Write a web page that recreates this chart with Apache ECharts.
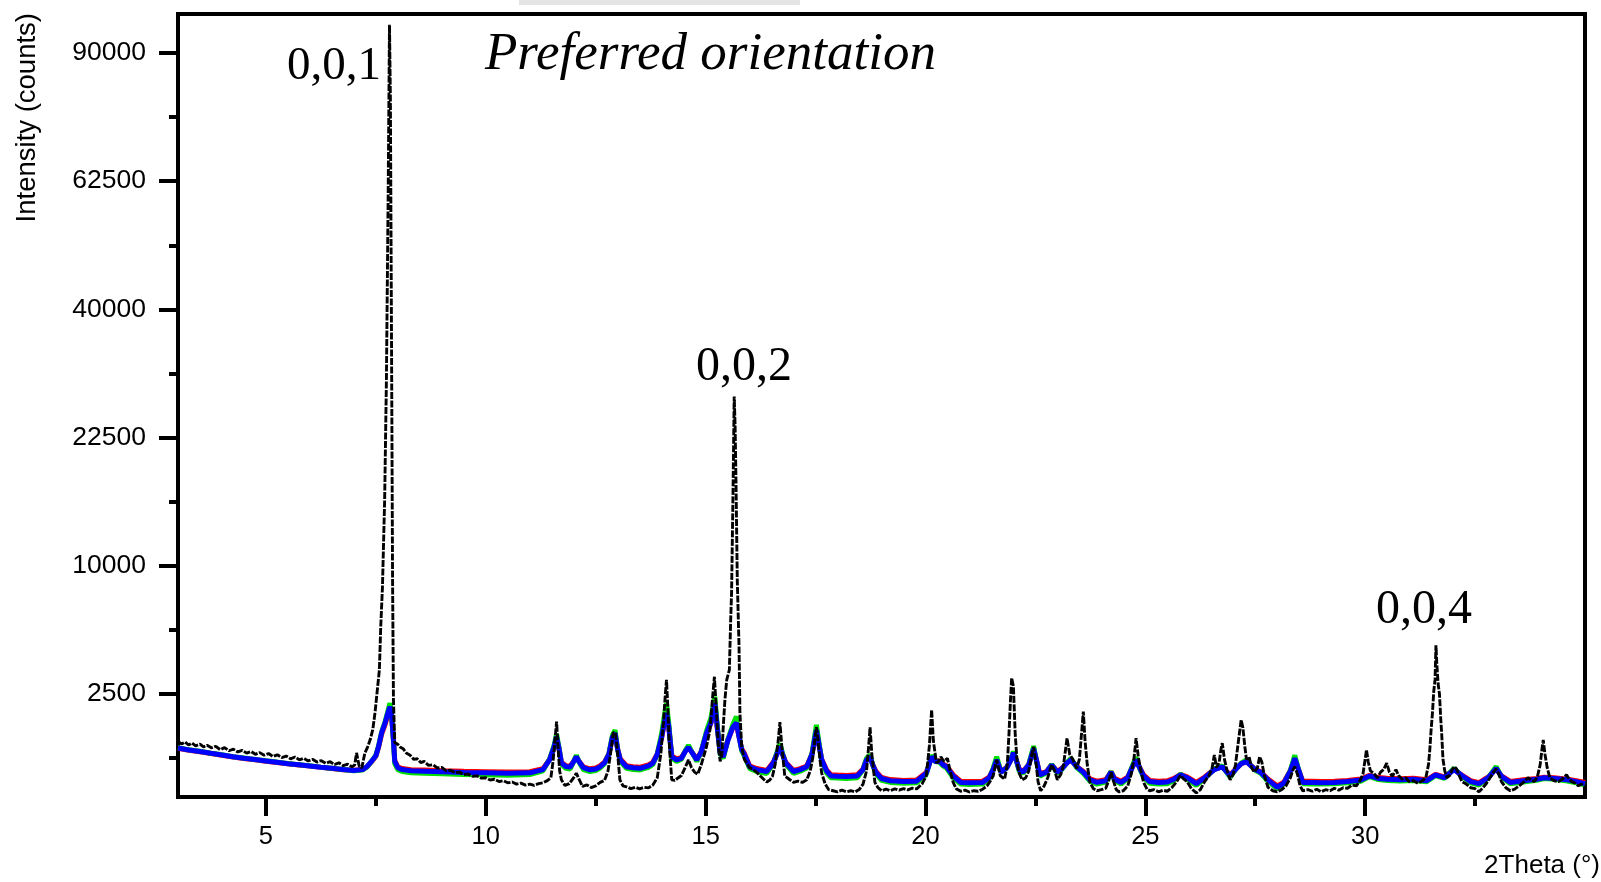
<!DOCTYPE html>
<html>
<head>
<meta charset="utf-8">
<script src="https://cdn.jsdelivr.net/npm/echarts@6/dist/echarts.min.js"></script>
<style>
  html, body { margin: 0; padding: 0; background: #fff; }
  #chart { width: 1601px; height: 882px; }
</style>
</head>
<body>
<div id="chart"></div>
<script>
// ---- tick labels ----
const xTickLabels = [5, 10, 15, 20, 25, 30];
const xMinorTicks = [7.5, 12.5, 17.5, 22.5, 27.5, 32.5];
const yTickLabels = [2500, 10000, 22500, 40000, 62500, 90000];
const yMinorTicks = [625, 5625, 15625, 30625, 50625, 75625];

// ---- 2Theta grid shared by the red / green / blue patterns ----
const colorTheta = [
  3.0, 3.25, 3.5, 3.75, 4.0, 4.25, 4.5, 4.75, 5.0, 5.25,
  5.5, 5.75, 6.0, 6.25, 6.5, 6.75, 7.0, 7.2, 7.3, 7.4,
  7.5, 7.56, 7.63, 7.71, 7.76, 7.82, 7.86, 7.9, 7.93, 8.0,
  8.1, 8.3, 8.6, 9.0, 9.5, 10.0, 10.5, 11.0, 11.3, 11.45,
  11.55, 11.61, 11.67, 11.72, 11.82, 11.92, 12.0, 12.06, 12.12, 12.22,
  12.37, 12.5, 12.6, 12.7, 12.8, 12.88, 12.94, 13.0, 13.06, 13.2,
  13.35, 13.51, 13.7, 13.8, 13.9, 14.0, 14.06, 14.11, 14.16, 14.23,
  14.34, 14.45, 14.55, 14.61, 14.68, 14.8, 14.9, 15.02, 15.12, 15.21,
  15.27, 15.33, 15.4, 15.51, 15.62, 15.7, 15.76, 15.82, 15.88, 16.0,
  16.16, 16.39, 16.54, 16.62, 16.69, 16.75, 16.82, 17.0, 17.15, 17.3,
  17.42, 17.52, 17.58, 17.64, 17.75, 17.85, 18.0, 18.2, 18.45, 18.58,
  18.66, 18.74, 18.8, 18.87, 19.0, 19.2, 19.5, 19.8, 20.02, 20.14,
  20.22, 20.32, 20.4, 20.48, 20.63, 20.8, 21.0, 21.3, 21.45, 21.54,
  21.62, 21.72, 21.85, 21.95, 22.0, 22.06, 22.13, 22.22, 22.35, 22.46,
  22.52, 22.6, 22.75, 22.87, 23.0, 23.1, 23.22, 23.31, 23.44, 23.59,
  23.74, 23.9, 24.1, 24.22, 24.3, 24.45, 24.6, 24.7, 24.79, 24.87,
  24.96, 25.1, 25.3, 25.5, 25.65, 25.8, 25.95, 26.16, 26.35, 26.57,
  26.75, 26.93, 27.05, 27.18, 27.3, 27.38, 27.5, 27.62, 27.79, 28.0,
  28.15, 28.3, 28.4, 28.47, 28.58, 28.8, 29.0, 29.3, 29.6, 29.9,
  30.1, 30.3, 30.5, 30.8, 31.1, 31.4, 31.6, 31.8, 32.02, 32.2,
  32.4, 32.59, 32.8, 32.98, 33.1, 33.3, 33.6, 33.9, 34.07, 34.3,
  34.6, 34.8, 35.0
];

const redCounts = [
  830, 785, 752, 715, 680, 645, 615, 590, 565, 540,
  517, 497, 477, 456, 437, 419, 408, 422, 468, 552,
  660, 845, 1170, 1450, 1690, 1950, 1670, 1040, 575, 465,
  437, 418, 412, 402, 392, 387, 382, 387, 435, 595,
  830, 1080, 800, 548, 485, 475, 565, 645, 565, 465,
  432, 447, 483, 548, 705, 1080, 1180, 810, 605, 483,
  468, 459, 497, 545, 710, 1090, 1480, 1880, 1400, 670,
  610, 635, 785, 845, 755, 605, 760, 1190, 1490, 2100,
  1300, 745, 670, 1040, 1360, 1470, 1110, 820, 720, 483,
  437, 405, 547, 705, 858, 705, 547, 407, 435, 480,
  705, 1270, 900, 600, 415, 342, 337, 332, 342, 430,
  595, 645, 505, 395, 305, 275, 265, 270, 375, 645,
  570, 570, 510, 478, 340, 255, 250, 255, 310, 425,
  585, 390, 458, 600, 720, 600, 430, 392, 505, 810,
  605, 355, 390, 498, 390, 440, 537, 585, 473, 390,
  286, 255, 272, 385, 292, 255, 310, 455, 580, 455,
  338, 265, 255, 260, 292, 347, 312, 240, 310, 425,
  468, 338, 425, 520, 553, 502, 425, 387, 283, 200,
  243, 405, 610, 450, 255, 255, 250, 255, 265, 282,
  332, 302, 292, 286, 292, 272, 347, 310, 422, 337,
  262, 238, 310, 435, 327, 252, 272, 290, 307, 300,
  281, 260, 238
];

const greenCounts = [
  845, 795, 765, 722, 690, 652, 625, 598, 572, 548,
  522, 502, 482, 460, 442, 422, 400, 415, 465, 560,
  680, 880, 1230, 1540, 1800, 2150, 1750, 1000, 520, 420,
  390, 370, 365, 355, 345, 340, 335, 345, 400, 600,
  880, 1180, 820, 510, 440, 430, 560, 680, 550, 420,
  390, 405, 445, 520, 710, 1150, 1290, 800, 560, 440,
  420, 415, 455, 505, 700, 1200, 1700, 2150, 1500, 620,
  560, 600, 800, 900, 760, 560, 760, 1260, 1650, 2390,
  1350, 700, 620, 1050, 1450, 1700, 1150, 780, 670, 440,
  390, 360, 520, 730, 940, 720, 510, 360, 395, 445,
  720, 1440, 950, 570, 370, 300, 295, 290, 300, 420,
  620, 690, 500, 360, 265, 240, 230, 235, 350, 680,
  560, 545, 480, 445, 300, 220, 215, 220, 290, 440,
  650, 380, 450, 620, 760, 600, 400, 360, 510, 880,
  590, 320, 370, 510, 365, 420, 540, 620, 450, 360,
  255, 220, 245, 390, 265, 220, 290, 470, 640, 440,
  305, 230, 220, 225, 265, 350, 285, 205, 290, 430,
  480, 305, 420, 530, 590, 500, 410, 365, 255, 170,
  220, 410, 680, 460, 225, 222, 220, 225, 235, 255,
  315, 275, 265, 258, 265, 248, 330, 290, 440, 320,
  235, 210, 300, 470, 310, 225, 245, 265, 290, 280,
  258, 235, 212
];

const blueCounts = [
  835, 790, 760, 720, 686, 650, 620, 595, 570, 545,
  520, 500, 480, 458, 440, 420, 405, 420, 470, 560,
  670, 865, 1210, 1500, 1750, 2025, 1700, 1030, 560, 450,
  420, 400, 395, 385, 375, 370, 365, 370, 420, 590,
  850, 1110, 800, 534, 470, 460, 560, 650, 560, 450,
  416, 430, 467, 534, 700, 1100, 1205, 800, 590, 467,
  450, 441, 480, 530, 700, 1100, 1500, 1810, 1400, 650,
  590, 620, 780, 850, 750, 590, 750, 1205, 1500, 2150,
  1300, 730, 650, 1030, 1370, 1500, 1100, 800, 700, 467,
  420, 390, 534, 700, 865, 700, 534, 390, 420, 466,
  700, 1296, 900, 590, 400, 325, 320, 315, 325, 420,
  590, 650, 500, 380, 290, 260, 250, 255, 365, 650,
  560, 560, 500, 466, 325, 240, 235, 240, 300, 420,
  590, 380, 450, 600, 730, 600, 420, 380, 500, 820,
  600, 340, 380, 497, 380, 430, 534, 590, 466, 380,
  272, 240, 260, 380, 280, 240, 300, 450, 590, 450,
  325, 250, 240, 245, 280, 340, 300, 225, 300, 420,
  466, 325, 420, 520, 557, 500, 420, 380, 272, 185,
  230, 400, 620, 450, 240, 240, 235, 240, 250, 270,
  325, 290, 280, 272, 280, 260, 340, 300, 420, 330,
  250, 225, 300, 440, 320, 240, 260, 280, 300, 290,
  272, 250, 225
];

// ---- black dashed pattern (preferred orientation): [2Theta, counts] ----
const preferredPattern = [
  [3.0,990],[3.08,930],[3.16,975],[3.24,905],[3.32,950],[3.4,885],[3.5,925],[3.58,860],[3.66,900],[3.76,840],
  [3.86,875],[3.96,800],[4.06,845],[4.16,775],[4.26,810],[4.36,750],[4.46,785],[4.56,725],[4.66,760],[4.76,700],
  [4.86,735],[4.96,680],[5.06,715],[5.16,655],[5.26,690],[5.36,635],[5.46,665],[5.56,610],[5.66,645],[5.76,590],
  [5.86,620],[5.96,570],[6.06,600],[6.16,550],[6.26,575],[6.36,525],[6.46,555],[6.56,505],[6.66,535],[6.76,485],
  [6.86,510],[6.96,465],[7.02,500],[7.06,730],[7.12,480],[7.18,445],[7.25,730],[7.31,850],[7.37,1030],[7.43,1300],
  [7.48,1815],[7.53,2600],[7.58,3525],[7.61,5735],[7.65,8400],[7.7,15800],[7.74,29750],[7.78,60000],[7.81,96700],[7.83,80000],
  [7.86,30000],[7.88,9000],[7.9,2275],[7.93,960],[8.0,920],[8.05,860],[8.12,820],[8.2,720],[8.28,680],[8.36,600],
  [8.44,610],[8.52,540],[8.6,560],[8.7,490],[8.8,500],[8.9,445],[9.0,455],[9.1,400],[9.2,410],[9.3,370],
  [9.4,380],[9.5,345],[9.6,350],[9.7,320],[9.8,325],[9.9,295],[10.0,300],[10.1,270],[10.2,280],[10.3,250],
  [10.4,262],[10.5,235],[10.6,245],[10.7,220],[10.8,232],[10.9,208],[11.0,220],[11.1,205],[11.2,225],[11.3,235],
  [11.4,262],[11.48,300],[11.53,560],[11.58,1100],[11.61,1537],[11.64,900],[11.68,400],[11.72,272],[11.8,205],[11.9,225],
  [12.0,300],[12.06,365],[12.12,280],[12.2,195],[12.3,210],[12.4,182],[12.5,200],[12.6,240],[12.7,265],[12.78,400],
  [12.85,800],[12.9,1230],[12.95,1200],[13.0,700],[13.05,272],[13.12,200],[13.2,190],[13.3,170],[13.4,185],[13.5,168],
  [13.6,185],[13.7,178],[13.8,210],[13.9,300],[13.98,700],[14.04,1500],[14.08,2400],[14.11,3080],[14.14,2000],[14.18,800],
  [14.23,272],[14.3,265],[14.38,300],[14.45,330],[14.55,480],[14.61,590],[14.68,450],[14.75,380],[14.82,350],[14.9,500],
  [15.02,865],[15.1,1300],[15.16,2400],[15.2,3215],[15.24,2000],[15.29,900],[15.33,560],[15.37,700],[15.4,1370],[15.44,2300],
  [15.48,3080],[15.54,3525],[15.57,6225],[15.59,7990],[15.62,15500],[15.65,27560],[15.67,24000],[15.69,17800],[15.72,8930],[15.76,4680],
  [15.78,1815],[15.82,865],[15.88,600],[15.93,534],[16.0,450],[16.08,420],[16.16,380],[16.25,320],[16.32,280],[16.39,245],
  [16.46,270],[16.52,320],[16.58,500],[16.65,1000],[16.69,1520],[16.73,900],[16.8,325],[16.9,280],[17.0,240],[17.1,255],
  [17.2,240],[17.3,272],[17.38,400],[17.44,650],[17.48,1000],[17.52,1370],[17.56,1000],[17.6,600],[17.64,365],[17.72,220],
  [17.8,160],[17.9,150],[18.0,140],[18.1,155],[18.2,140],[18.3,150],[18.4,138],[18.5,165],[18.58,220],[18.66,400],
  [18.71,900],[18.74,1370],[18.78,700],[18.85,240],[18.92,180],[19.0,150],[19.1,165],[19.2,150],[19.3,168],[19.4,155],
  [19.5,170],[19.6,158],[19.7,175],[19.8,168],[19.92,220],[20.02,325],[20.09,900],[20.14,1918],[20.18,1000],[20.25,534],
  [20.3,560],[20.35,650],[20.42,560],[20.5,620],[20.56,400],[20.63,240],[20.7,170],[20.8,145],[20.9,155],[21.0,138],
  [21.1,150],[21.2,145],[21.3,165],[21.4,200],[21.48,260],[21.54,325],[21.62,590],[21.7,330],[21.8,280],[21.86,500],
  [21.9,1200],[21.93,2150],[21.96,3160],[22.0,2800],[22.04,1200],[22.08,600],[22.12,380],[22.2,272],[22.28,300],[22.35,400],
  [22.42,700],[22.46,865],[22.52,500],[22.56,250],[22.62,150],[22.7,200],[22.78,300],[22.87,500],[22.94,400],[23.0,272],
  [23.08,350],[23.14,500],[23.22,1070],[23.28,700],[23.35,600],[23.44,440],[23.5,600],[23.55,1200],[23.59,1860],[23.63,1000],
  [23.68,500],[23.74,240],[23.82,170],[23.9,150],[24.0,160],[24.1,175],[24.18,280],[24.22,380],[24.28,250],[24.34,160],
  [24.4,140],[24.5,150],[24.6,200],[24.68,350],[24.74,600],[24.79,1070],[24.84,650],[24.9,400],[24.96,240],[25.04,165],
  [25.1,150],[25.2,160],[25.3,140],[25.4,155],[25.5,145],[25.6,180],[25.7,240],[25.8,330],[25.88,280],[25.95,250],
  [26.05,170],[26.16,130],[26.25,160],[26.35,250],[26.45,330],[26.52,450],[26.57,686],[26.62,450],[26.68,550],[26.72,800],
  [26.75,950],[26.8,600],[26.86,400],[26.93,272],[27.0,350],[27.05,500],[27.1,850],[27.14,1200],[27.18,1590],[27.22,1350],
  [27.26,900],[27.3,600],[27.36,650],[27.42,450],[27.48,380],[27.55,450],[27.6,650],[27.65,550],[27.7,350],[27.79,185],
  [27.9,150],[28.0,140],[28.1,160],[28.2,200],[28.3,300],[28.36,420],[28.4,466],[28.46,350],[28.52,200],[28.58,150],
  [28.7,160],[28.8,145],[28.9,165],[29.0,140],[29.1,160],[29.2,150],[29.3,175],[29.4,155],[29.5,180],[29.6,175],
  [29.7,210],[29.8,200],[29.88,260],[29.95,350],[30.0,600],[30.03,795],[30.07,550],[30.12,400],[30.2,360],[30.28,300],
  [30.35,380],[30.42,420],[30.49,530],[30.55,380],[30.62,320],[30.7,420],[30.76,330],[30.84,280],[30.92,300],[31.0,250],
  [31.1,260],[31.2,230],[31.3,260],[31.38,300],[31.44,500],[31.47,795],[31.5,1300],[31.53,1800],[31.56,2600],[31.59,3100],
  [31.61,4760],[31.63,3800],[31.66,2900],[31.69,2500],[31.72,1600],[31.74,1205],[31.77,600],[31.81,400],[31.86,300],[31.92,330],
  [31.98,420],[32.03,470],[32.08,430],[32.14,330],[32.2,250],[32.3,220],[32.4,180],[32.5,170],[32.59,140],[32.68,180],
  [32.76,230],[32.84,300],[32.92,380],[32.98,430],[33.04,350],[33.1,250],[33.2,180],[33.3,150],[33.4,165],[33.5,200],
  [33.6,240],[33.7,300],[33.78,270],[33.85,250],[33.92,320],[33.98,500],[34.02,800],[34.05,1030],[34.09,700],[34.14,450],
  [34.2,300],[34.3,260],[34.4,250],[34.5,290],[34.58,340],[34.64,280],[34.7,250],[34.78,230],[34.85,200],[34.92,220],
  [35.0,180]
];

// ---- build chart (y axis is a square-root intensity scale) ----
const sq = Math.sqrt;
const colorSeries = (counts) => colorTheta.map((t, i) => [t, sq(counts[i])]);

const chart = echarts.init(document.getElementById('chart'), null, { renderer: 'canvas' });

const sansFont = "'Liberation Sans', Arial, sans-serif";
const serifFont = "'Liberation Serif', 'Times New Roman', serif";

const option = {
  animation: false,
  backgroundColor: '#ffffff',
  grid: {
    left: 178, right: 16, top: 14, bottom: 85,
    show: true, borderColor: '#000', borderWidth: 4, backgroundColor: 'transparent'
  },
  xAxis: [
    {
      type: 'value', min: 3, max: 35, position: 'bottom',
      axisLine: { show: true, onZero: false, lineStyle: { color: '#000', width: 4 } },
      axisTick: { show: true, inside: false, length: 19, customValues: xTickLabels, lineStyle: { color: '#000', width: 4 } },
      axisLabel: { show: true, customValues: xTickLabels, margin: 27, color: '#000', fontSize: 25.5, fontFamily: sansFont },
      splitLine: { show: false }
    },
    {
      type: 'value', min: 3, max: 35, position: 'bottom',
      axisLine: { show: false, onZero: false },
      axisTick: { show: true, inside: false, length: 9, customValues: xMinorTicks, lineStyle: { color: '#000', width: 4 } },
      axisLabel: { show: false },
      splitLine: { show: false }
    }
  ],
  yAxis: [
    {
      type: 'value', min: 9.8, max: 315.2, position: 'left',
      axisLine: { show: true, onZero: false, lineStyle: { color: '#000', width: 4 } },
      axisTick: { show: true, inside: false, length: 19, customValues: yTickLabels.map(sq), lineStyle: { color: '#000', width: 4 } },
      axisLabel: {
        show: true, customValues: yTickLabels.map(sq), margin: 32, color: '#000', fontSize: 26.5, fontFamily: sansFont,
        formatter: (v) => String(Math.round(v * v))
      },
      splitLine: { show: false }
    },
    {
      type: 'value', min: 9.8, max: 315.2, position: 'left',
      axisLine: { show: false, onZero: false },
      axisTick: { show: true, inside: false, length: 9, customValues: yMinorTicks.map(sq), lineStyle: { color: '#000', width: 4 } },
      axisLabel: { show: false },
      splitLine: { show: false }
    }
  ],
  series: [
    {
      name: 'red', type: 'line', xAxisIndex: 0, yAxisIndex: 0, showSymbol: false, z: 2,
      lineStyle: { color: '#ff0000', width: 5 }, data: colorSeries(redCounts)
    },
    {
      name: 'green', type: 'line', xAxisIndex: 0, yAxisIndex: 0, showSymbol: false, z: 3,
      lineStyle: { color: '#00e000', width: 5 }, data: colorSeries(greenCounts)
    },
    {
      name: 'blue', type: 'line', xAxisIndex: 0, yAxisIndex: 0, showSymbol: false, z: 4,
      lineStyle: { color: '#0000ff', width: 5 }, data: colorSeries(blueCounts)
    },
    {
      name: 'preferred', type: 'line', xAxisIndex: 0, yAxisIndex: 0, showSymbol: false, z: 5,
      lineStyle: { color: '#000', width: 2.9, type: [7, 1.5] },
      data: preferredPattern.map(([t, c]) => [t, sq(c)])
    }
  ],
  graphic: [
    { type: 'rect', left: 519, top: 0, shape: { width: 281, height: 5 }, style: { fill: '#e4e4e4' }, silent: true },
    {
      type: 'text', x: 27, y: 13, rotation: Math.PI / 2,
      style: { text: 'Intensity (counts)', fontSize: 27.5, fontFamily: sansFont, fill: '#000', align: 'right', verticalAlign: 'middle' }
    },
    {
      type: 'text', x: 1600, y: 866,
      style: { text: '2Theta (°)', fontSize: 26, fontFamily: sansFont, fill: '#000', align: 'right', verticalAlign: 'middle' }
    },
    {
      type: 'text', x: 381, y: 67,
      style: { text: '0,0,1', fontSize: 47, fontFamily: serifFont, fill: '#000', align: 'right', verticalAlign: 'middle' }
    },
    {
      type: 'text', x: 744, y: 367,
      style: { text: '0,0,2', fontSize: 48, fontFamily: serifFont, fill: '#000', align: 'center', verticalAlign: 'middle' }
    },
    {
      type: 'text', x: 1424, y: 610,
      style: { text: '0,0,4', fontSize: 48, fontFamily: serifFont, fill: '#000', align: 'center', verticalAlign: 'middle' }
    },
    {
      type: 'text', x: 485, y: 55,
      style: { text: 'Preferred orientation', fontSize: 53, fontStyle: 'italic', fontFamily: serifFont, fill: '#000', align: 'left', verticalAlign: 'middle' }
    }
  ]
};

chart.setOption(option);
</script>
</body>
</html>
